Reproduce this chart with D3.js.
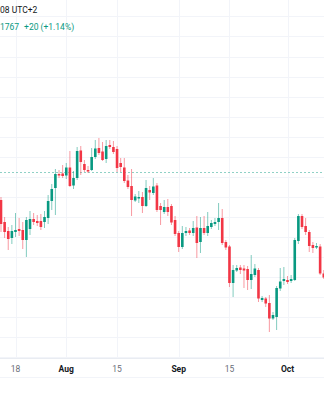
<!DOCTYPE html>
<html><head><meta charset="utf-8">
<script src="https://cdn.jsdelivr.net/npm/d3@7"></script>
<style>html,body{margin:0;padding:0;background:#fff;overflow:hidden}</style>
</head><body><svg id="c" width="324" height="400"></svg>
<script>
// ---- data (daily candles, first one dated startDate) ----
const startDate = "2022-07-14";
const opens  = [1738.5,1716.5,1707.5,1700.5,1706.5,1709.5,1708.5,1698.5,1709.5,1719.5,1717.5,1717.5,1716.5,1720.5,1737.5,1750.5,1764.5,1765,1763,1771,1753,1760.5,1788,1774.5,1768.5,1768.5,1781.5,1790.5,1787,1779.5,1793.5,1791.5,1789.5,1775.5,1771,1758,1752.5,1738,1740,1741.5,1732.5,1748.5,1745.5,1753,1732.5,1726.5,1731.5,1732.5,1718.5,1705.5,1691.5,1705.5,1708,1705.5,1711,1696.5,1710.5,1705.5,1711.5,1714.5,1716.5,1720.5,1696.5,1692,1655.5,1668,1671,1670,1669.5,1658.5,1663.5,1668.5,1638.5,1640,1635.5,1620,1621.5,1650,1657.5,1658.5,1657.5,1658.5,1697.5,1722.5,1712.5,1706.5,1693.5,1691,1692,1665];
const highs  = [1741.5,1721.5,1711.5,1713.5,1725.5,1720.5,1716.5,1721.5,1727.5,1725.5,1723.5,1724.5,1727.5,1743.5,1754.5,1769.5,1768.5,1773.5,1775.5,1787.5,1767.5,1791.5,1792.5,1778.5,1772.5,1790.5,1798.5,1800.5,1796.5,1798.5,1798.5,1797.5,1792.5,1780.5,1780.5,1763.5,1769.5,1744.5,1747.5,1746.5,1758.5,1752.5,1760.5,1755.5,1735.5,1738.5,1739.5,1734.5,1722.5,1707.5,1712.5,1711.5,1710.5,1717.5,1722.5,1721.5,1722.5,1726.5,1718.5,1720.5,1735.5,1729.5,1698.5,1693.5,1673.5,1673.5,1673.5,1673.5,1672.5,1683.5,1674.5,1670.5,1642.5,1641.5,1643.5,1626.5,1652.5,1670.5,1671.5,1662.5,1663.5,1700.5,1724.5,1724.5,1720.5,1708.5,1696.5,1695.5,1694.5,1668.5];
const lows   = [1706.5,1700.5,1688.5,1694.5,1701.5,1702.5,1689.5,1681.5,1703.5,1713.5,1712.5,1708.5,1710.5,1714.5,1728.5,1723.5,1760.5,1760.5,1759.5,1751.5,1749.5,1758.5,1763.5,1766.5,1765.5,1767.5,1779.5,1783.5,1777.5,1775.5,1789.5,1784.5,1766.5,1766.5,1755.5,1749.5,1722.5,1736.5,1735.5,1725.5,1731.5,1738.5,1743.5,1726.5,1713.5,1724.5,1722.5,1713.5,1702.5,1686.5,1689.5,1702.5,1703.5,1702.5,1680.5,1685.5,1703.5,1702.5,1709.5,1712.5,1708.5,1693.5,1688.5,1651.5,1641.5,1666.5,1664.5,1650.5,1648.5,1649.5,1661.5,1636.5,1636.5,1631.5,1606.5,1618.5,1608.5,1647.5,1653.5,1654.5,1655.5,1657.5,1694.5,1709.5,1703.5,1686.5,1685.5,1689.5,1663.5,1659.5];
const closes = [1714.5,1706.5,1699.5,1707.5,1708.5,1707.5,1698.5,1718.5,1719.5,1716.5,1715.5,1711.5,1721.5,1737.5,1749.5,1764.5,1763,1762.5,1771,1752.5,1760.5,1787.5,1776.5,1768.5,1767,1781.5,1790,1785.5,1778.5,1792.5,1791.5,1786.5,1770.5,1771.5,1757.5,1751.5,1738.5,1742,1741.5,1732.5,1750.5,1746,1752,1728.5,1728.5,1731.5,1726.5,1716,1704.5,1691.5,1705.5,1707.5,1705.5,1710.5,1695.5,1710.5,1705.5,1712.5,1715.5,1716.5,1720.5,1695.5,1691,1655.5,1668.5,1670.5,1668.5,1668,1658.5,1664.5,1670,1640,1640.5,1635,1620,1623.5,1650.5,1657,1659.5,1656.5,1659.5,1698.5,1722.5,1711.5,1706.5,1692.5,1690.5,1692.5,1665,1661];
const priceTicks = [1922,1902,1882,1862,1842,1822,1802,1782,1762,1742,1722,1702,1682,1662,1642,1622,1602,1582];
const timeTicks  = ["2022-07-18","2022-08-01","2022-08-15","2022-09-01","2022-09-15","2022-10-01"];
const timeLabels = ["18","Aug","15","Sep","15","Oct"];
const timeLabelBold = [false,true,false,true,false,true];
const lastPrice = 1767;
const headerTime = "08 UTC+2";
const headerClose = "1767";
const headerChange = "+20 (+1.14%)";

// ---- drawing ----
const W = 324, H = 400;
const up = "#089981", down = "#F23645";
const svg = d3.select("#c");
const parse = d3.utcParse("%Y-%m-%d");
const t0 = parse(startDate);
const candles = opens.map((o, i) => ({
  date: d3.utcDay.offset(t0, i), o, h: highs[i], l: lows[i], c: closes[i]
}));

const plotBottom = 358;
const x = d3.scaleUtc().domain([parse("2022-07-18"), parse("2022-10-01")]).range([15.5, 287.5]);
const y = d3.scaleLinear().domain([1580, 1900]).range([358.5, 38.5]);

// grid
const grid = svg.append("g");
grid.selectAll("line.h").data(priceTicks).join("line")
  .attr("x1", 0).attr("x2", W)
  .attr("y1", d => Math.round(y(d)) + 0.5).attr("y2", d => Math.round(y(d)) + 0.5)
  .attr("stroke", "#f2f4f9").attr("stroke-width", 1);
grid.selectAll("line.v").data(timeTicks).join("line")
  .attr("x1", d => Math.round(x(parse(d))) + 0.5).attr("x2", d => Math.round(x(parse(d))) + 0.5)
  .attr("y1", 0).attr("y2", plotBottom)
  .attr("stroke", "#f2f4f9").attr("stroke-width", 1);

// last price dashed line
svg.append("line")
  .attr("x1", 0).attr("x2", W)
  .attr("y1", Math.round(y(lastPrice)) + 0.5).attr("y2", Math.round(y(lastPrice)) + 0.5)
  .attr("stroke", up).attr("stroke-opacity", 0.45)
  .attr("stroke-dasharray", "2,2").attr("stroke-width", 1);

// candles
const bw = 2.6;
const g = svg.append("g");
g.selectAll("line.w").data(candles).join("line")
  .attr("x1", d => x(d.date)).attr("x2", d => x(d.date))
  .attr("y1", d => y(d.h)).attr("y2", d => y(d.l))
  .attr("stroke", d => d.c >= d.o ? up : down)
  .attr("stroke-opacity", 0.5).attr("stroke-width", 1);
g.selectAll("rect").data(candles).join("rect")
  .attr("x", d => x(d.date) - bw / 2).attr("width", bw)
  .attr("y", d => y(Math.max(d.o, d.c)))
  .attr("height", d => Math.max(1, Math.abs(y(d.o) - y(d.c))))
  .attr("fill", d => d.c >= d.o ? up : down);

// time axis
svg.append("rect").attr("x", 0).attr("y", plotBottom).attr("width", W).attr("height", H - plotBottom).attr("fill", "#fff");
svg.append("line").attr("x1", 0).attr("x2", W).attr("y1", plotBottom + 0.5).attr("y2", plotBottom + 0.5).attr("stroke", "#e9ecf2");
svg.append("line").attr("x1", 0).attr("x2", W).attr("y1", 377.5).attr("y2", 377.5).attr("stroke", "#f2f4f9");
svg.selectAll("text.t").data(timeTicks).join("text")
  .attr("x", d => x(parse(d))).attr("y", 372)
  .attr("text-anchor", "middle")
  .attr("font-family", "Roboto, sans-serif").attr("font-size", 8.5)
  .attr("font-weight", (d, i) => timeLabelBold[i] ? 700 : 400)
  .attr("fill", (d, i) => timeLabelBold[i] ? "#131722" : "#6a6d78")
  .text((d, i) => timeLabels[i]);

// header legend
svg.append("text").attr("x", 0).attr("y", 13)
  .attr("font-family", "Roboto, sans-serif").attr("font-size", 8.5).attr("fill", "#131722")
  .text(headerTime);
const hq = svg.append("text").attr("x", 0).attr("y", 30)
  .attr("font-family", "Roboto, sans-serif").attr("font-size", 8.5).attr("fill", up);
hq.append("tspan").text(headerClose);
hq.append("tspan").attr("dx", 5).text(headerChange);
</script></body></html>
